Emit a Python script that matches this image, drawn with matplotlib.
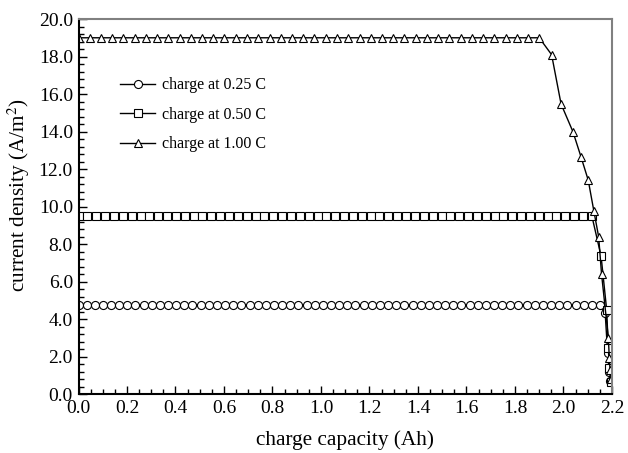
import matplotlib.pyplot as plt
from matplotlib.ticker import MultipleLocator, FormatStrFormatter

plt.rcParams['font.family'] = ['Liberation Serif', 'DejaVu Serif']
plt.rcParams['mathtext.fontset'] = 'stix'

#######################################################################
# Data
#######################################################################

# charge at 0.25 C
cap_025 = [0.000, 0.034, 0.067, 0.101, 0.134, 0.168, 0.202, 0.235, 0.269, 0.302,
           0.336, 0.370, 0.403, 0.437, 0.470, 0.504, 0.538, 0.571, 0.605, 0.638,
           0.672, 0.706, 0.739, 0.773, 0.806, 0.840, 0.874, 0.907, 0.941, 0.974,
           1.008, 1.042, 1.075, 1.109, 1.142, 1.176, 1.210, 1.243, 1.277, 1.310,
           1.344, 1.378, 1.411, 1.445, 1.478, 1.512, 1.546, 1.579, 1.613, 1.646,
           1.680, 1.714, 1.747, 1.781, 1.814, 1.848, 1.882, 1.915, 1.949, 1.982,
           2.016, 2.050, 2.083, 2.117, 2.150,
           2.172, 2.182, 2.188, 2.192]
cur_025 = [4.75] * 65 + [4.30, 2.20, 1.20, 0.70]

# charge at 0.50 C
cap_050 = [0.000, 0.037, 0.073, 0.110, 0.146, 0.183, 0.219, 0.256, 0.292, 0.329,
           0.365, 0.402, 0.438, 0.475, 0.511, 0.548, 0.584, 0.621, 0.657, 0.694,
           0.730, 0.767, 0.803, 0.840, 0.876, 0.913, 0.949, 0.986, 1.022, 1.059,
           1.095, 1.132, 1.168, 1.205, 1.241, 1.278, 1.314, 1.351, 1.387, 1.424,
           1.460, 1.497, 1.533, 1.570, 1.606, 1.643, 1.679, 1.716, 1.752, 1.789,
           1.825, 1.862, 1.898, 1.935, 1.971, 2.008, 2.044, 2.081, 2.117,
           2.155, 2.178, 2.185, 2.189, 2.195]
cur_050 = [9.50] * 59 + [7.36, 4.50, 2.44, 1.37, 0.66]

# charge at 1.00 C
cap_100 = [0.000, 0.046, 0.093, 0.139, 0.185, 0.232, 0.278, 0.324, 0.371, 0.417,
           0.463, 0.510, 0.556, 0.602, 0.649, 0.695, 0.741, 0.788, 0.834, 0.880,
           0.927, 0.973, 1.019, 1.066, 1.112, 1.159, 1.205, 1.251, 1.298, 1.344,
           1.390, 1.437, 1.483, 1.529, 1.576, 1.622, 1.668, 1.715, 1.761, 1.807,
           1.854, 1.900,
           1.951, 1.990, 2.039, 2.072, 2.102, 2.125, 2.145, 2.157, 2.185, 2.189,
           2.192, 2.195]
cur_100 = [19.0] * 42 + [18.1, 15.47, 13.99, 12.66, 11.41, 9.78, 8.39, 6.40,
                         3.00, 1.90, 1.30, 0.80]

labels = ["charge at 0.25 C", "charge at 0.50 C", "charge at 1.00 C"]

#######################################################################
# Plotting
#######################################################################

fig = plt.figure(figsize=(6.28, 4.53), dpi=100)
ax = fig.add_axes([0.125, 0.130, 0.8495, 0.828])

style = dict(color="black", linewidth=1.0, markerfacecolor="white",
             markeredgecolor="black", markeredgewidth=0.8)
ax.plot(cap_025, cur_025, marker="o", markersize=5.8, label=labels[0], **style)
ax.plot(cap_050, cur_050, marker="s", markersize=5.2, label=labels[1], **style)
ax.plot(cap_100, cur_100, marker="^", markersize=6.2, label=labels[2], **style)

ax.set_xlim(0.0, 2.2)
ax.set_ylim(0.0, 20.0)
ax.xaxis.set_major_locator(MultipleLocator(0.2))
ax.xaxis.set_minor_locator(MultipleLocator(0.05))
ax.yaxis.set_major_locator(MultipleLocator(2.0))
ax.yaxis.set_minor_locator(MultipleLocator(0.4))
ax.xaxis.set_major_formatter(FormatStrFormatter("%.1f"))
ax.yaxis.set_major_formatter(FormatStrFormatter("%.1f"))

ax.tick_params(which="both", direction="in", top=False, right=False,
               labelsize=14, color="black")
ax.tick_params(which="major", length=6, width=1.0, pad=4)
ax.tick_params(which="minor", length=3.5, width=1.0)

for side in ["left", "bottom"]:
    ax.spines[side].set_color("black")
    ax.spines[side].set_linewidth(1.5)
for side in ["top", "right"]:
    ax.spines[side].set_color("#808080")
    ax.spines[side].set_linewidth(1.5)

ax.set_xlabel("charge capacity (Ah)", fontsize=15.3, labelpad=10)
ax.set_ylabel("current density (A/m$^2$)", fontsize=15.3)
ax.yaxis.set_label_coords(-0.087, 0.53)

ax.legend(loc="upper left", bbox_to_anchor=(0.066, 0.862), frameon=False,
          fontsize=11.5, handlelength=2.2, handletextpad=0.45, labelspacing=0.85,
          borderaxespad=0.0)

fig.savefig("out.png", dpi=100)
